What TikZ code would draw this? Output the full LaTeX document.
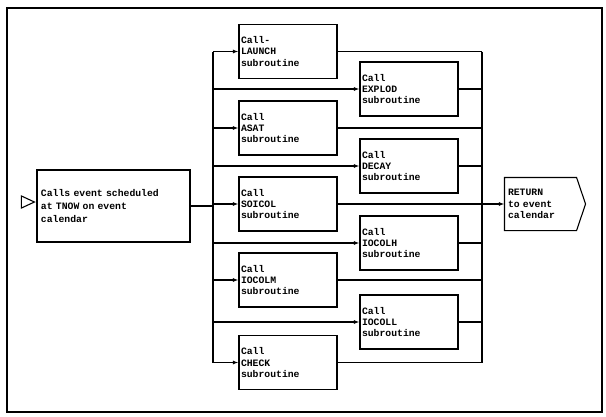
\documentclass[tikz,border=0pt]{standalone}
\usepackage{fontspec}
\setmonofont{Liberation Mono}
\usetikzlibrary{arrows.meta,positioning,calc}
\tikzset{
  blk/.style  ={draw,line width=1.1bp,align=left,text width=94bp,inner xsep=2bp,
                minimum height=54bp,font=\ttfamily\bfseries\fontsize{9.8}{11.5}\selectfont},
  evt/.style  ={blk,text width=145bp,inner xsep=4bp,minimum height=72bp,
                font=\ttfamily\bfseries\fontsize{9.8}{13}\selectfont},
  wire/.style ={line width=1.1bp},
  flow/.style ={wire,-{Latex[length=5.5bp,width=4bp]}},
}

\begin{document}
\begin{tikzpicture}[x=1bp,y=-1bp]
  \useasboundingbox (0,0) rectangle (606,416);
  \draw[wire] (7,8) rectangle (602,412);

  \node[evt] (sched) at (113.5,206) {Calls event scheduled\\at TNOW on event\\calendar};
  \coordinate (in) at ([xshift=-2bp,yshift=4bp]sched.west);
  \draw[wire] (in) -- ++(-13,-6) -- ++(0,12) -- cycle;

  \node[blk] (launch) at (288,51.5) {Call-\\LAUNCH\\subroutine};
  \node[blk] (asat)   at (288,128)  {Call\\ASAT\\subroutine};
  \node[blk] (soicol) at (288,204)  {Call\\SOICOL\\subroutine};
  \node[blk] (iocolm) at (288,280)  {Call\\IOCOLM\\subroutine};
  \node[blk] (check)  at (288,362.5){Call\\CHECK\\subroutine};

  \node[blk] (explod) at (409,89)   {Call\\EXPLOD\\subroutine};
  \node[blk] (decay)  at (409,166)  {Call\\DECAY\\subroutine};
  \node[blk] (iocolh) at (409,243)  {Call\\IOCOLH\\subroutine};
  \node[blk] (iocoll) at (409,322)  {Call\\IOCOLL\\subroutine};

  \node[blk,draw=none,text width=74bp,inner xsep=3bp,minimum height=52bp] (ret) at (545,204)
       {RETURN\\to event\\calendar};
  \draw[wire] (ret.north west) -- ([xshift=-9bp]ret.north east) -- (ret.east)
       -- ([xshift=-9bp]ret.south east) -- (ret.south west) -- cycle;

  \coordinate (trunk) at (213,0);
  \coordinate (coll)  at (482,0);
  \draw[wire] (sched.east) -- (sched.east -| trunk);
  \draw[wire] (launch.west -| trunk) -- (check.west -| trunk);
  \foreach \b in {launch,asat,soicol,iocolm,check,explod,decay,iocolh,iocoll}
    \draw[flow] (\b.west -| trunk) -- (\b.west);
  \draw[wire] (launch.east -| coll) -- (check.east -| coll);
  \foreach \b in {launch,asat,iocolm,check,explod,decay,iocolh,iocoll}
    \draw[wire] (\b.east) -- (\b.east -| coll);
  \draw[flow] (soicol.east) -- (ret.west);
\end{tikzpicture}
\end{document}
